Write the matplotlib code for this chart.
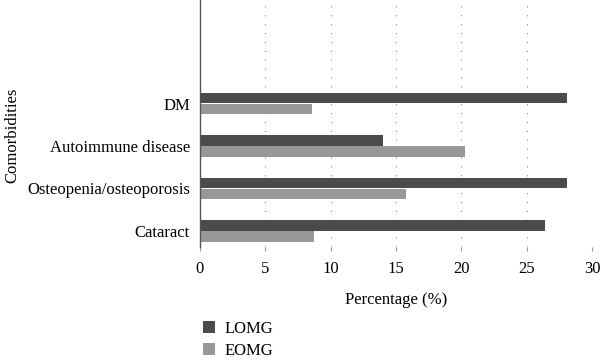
import matplotlib
matplotlib.use("Agg")
import matplotlib.pyplot as plt
import numpy as np

categories = ["Cataract", "Osteopenia/osteoporosis", "Autoimmune disease", "DM"]
lomg = [26.4, 28.1, 14.0, 28.1]
eomg = [8.7, 15.8, 20.3, 8.6]
xticks = [0, 5, 10, 15, 20, 25, 30]

plt.rcParams['font.family'] = ['Liberation Serif', 'DejaVu Serif']
dark = "#4b4b4e"
light = "#98989b"

fig = plt.figure(figsize=(6, 3.62), dpi=100)
ax = fig.add_axes([0.333, 0.318, 0.654, 0.682])
y = np.arange(len(categories))
h = 0.25
ax.barh(y + h/2 + 0.005, lomg, height=h, color=dark, label="LOMG")
ax.barh(y - h/2 - 0.005, eomg, height=h, color=light, label="EOMG")
ax.set_ylim(-0.38, 5.44)
ax.set_xlim(0, 30)
ax.set_xticks(xticks)
ax.set_yticks(y)
ax.set_yticklabels(categories, fontsize=12)
ax.tick_params(axis='y', length=0, pad=7)
ax.tick_params(axis='x', length=3, color="#999999", labelsize=12, pad=7)
for s in ["top", "right", "bottom"]:
    ax.spines[s].set_visible(False)
ax.spines["left"].set_color("#555555")
ax.spines["left"].set_linewidth(1.0)
ax.xaxis.grid(True, linestyle=(0, (1, 7)), color="#888888", linewidth=0.8)
ax.set_axisbelow(True)
ax.set_xlabel("Percentage (%)", fontsize=12, labelpad=11)
ax.set_ylabel("Comorbidities", fontsize=12)
ax.yaxis.set_label_coords(-0.457, 0.45)
fig.legend(loc="upper left", bbox_to_anchor=(0.327, 0.132), frameon=False,
           fontsize=12, handlelength=0.7, handleheight=0.7, handletextpad=0.6,
           labelspacing=0.35, borderaxespad=0)
fig.savefig("out.png", dpi=100)
